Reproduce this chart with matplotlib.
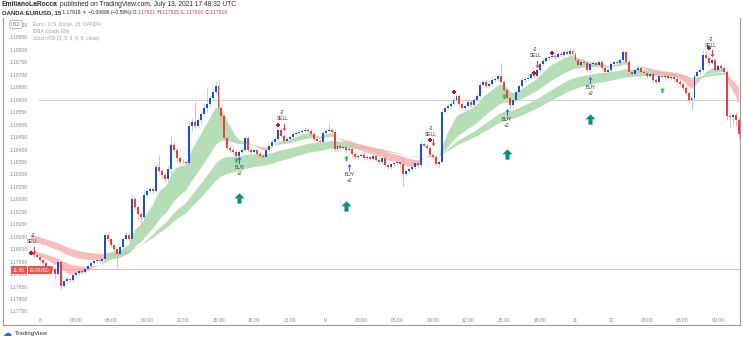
import numpy as np
import pandas as pd
import matplotlib
matplotlib.use("Agg")
import matplotlib.pyplot as plt
from matplotlib.path import Path

plt.rcParams['font.family'] = ['Liberation Sans', 'DejaVu Sans']

W, H = 743, 341

# ---------------------------------------------------------------------------
# EUR/USD 15-minute bars.  Bar 0 = Jul 8 00:00; first drawn bar is -3.
# Prices are kept in points (1e-5) above BASE.
# ---------------------------------------------------------------------------
BASE = 1.17
FIRST_BAR = -3
first_open_pts = 990

close_pts = [
    984, 976, 968, 956, 944, 932, 928, 920, 900, 948,          # -3 .. 6
    852, 872, 880, 876, 896, 904, 912, 908, 920, 932,          # 7 .. 16
    944, 952, 956, 952, 960, 1056, 1040, 1016, 1000, 980,      # 17 .. 26
    1008, 1040, 1056, 1040, 1200, 1168, 1140, 1128, 1216, 1232,
    1240, 1232, 1328, 1312, 1296, 1280, 1320, 1420, 1400, 1368,
    1352, 1348, 1344, 1496, 1512, 1496, 1520, 1544, 1568, 1584,
    1608, 1632, 1656, 1568, 1536, 1448, 1408, 1400, 1392, 1376,
    1392, 1400, 1448, 1400, 1392, 1400, 1384, 1376, 1372, 1400,
    1416, 1432, 1444, 1480, 1456, 1436, 1444, 1452, 1464, 1468,
    1472, 1476, 1480, 1476, 1464, 1444, 1436, 1432, 1468, 1476,
    1480, 1472, 1404, 1416, 1408, 1412, 1400, 1404, 1384, 1372,
    1376, 1380, 1368, 1372, 1364, 1376, 1360, 1352, 1368, 1336,
    1328, 1340, 1344, 1348, 1340, 1300, 1312, 1320, 1328, 1344,
    1336, 1424, 1416, 1408, 1380, 1372, 1340, 1352, 1552, 1568,
    1576, 1584, 1600, 1616, 1584, 1568, 1576, 1592, 1580, 1600,
    1616, 1660, 1672, 1656, 1664, 1680, 1684, 1696, 1672, 1640,
    1608, 1580, 1600, 1632, 1656, 1680, 1684, 1688, 1704, 1696,
    1720, 1744, 1756, 1768, 1772, 1776, 1772, 1784, 1780, 1792,
    1784, 1796, 1784, 1760, 1740, 1752, 1748, 1720, 1744, 1748,
    1740, 1752, 1728, 1712, 1720, 1744, 1752, 1748, 1760, 1792,
    1752, 1712, 1704, 1720, 1728, 1712, 1708, 1696, 1704, 1680,
    1672, 1696, 1692, 1696, 1688, 1692, 1684, 1672, 1664, 1648,
    1628, 1600, 1608, 1696, 1712, 1720, 1780, 1768, 1748, 1760,
    1720, 1736, 1728, 1712, 1536, 1532, 1540, 1520, 1464,      # 227 .. 235
]

upper_wick_pts = [
    6, 10, 4, 6, 4, 6, 4, 8, 6, 8,
    6, 4, 8, 6, 4, 6, 4, 8, 4, 6,
    4, 6, 8, 4, 6, 10, 8, 6, 4, 6,
    6, 8, 12, 6, 16, 8, 6, 10, 20, 12,
    14, 8, 12, 52, 10, 8, 12, 36, 10, 8,
    8, 12, 6, 20, 16, 80, 12, 10, 14, 64,
    10, 14, 20, 24, 8, 6, 6, 8, 10, 6,
    8, 6, 8, 6, 6, 8, 4, 6, 6, 8,
    6, 8, 6, 12, 8, 6, 8, 6, 8, 6,
    8, 6, 10, 6, 8, 6, 4, 8, 10, 6,
    28, 8, 6, 8, 6, 10, 6, 8, 6, 8,
    6, 8, 10, 6, 8, 6, 10, 6, 8, 6,
    8, 6, 8, 10, 6, 8, 6, 8, 6, 10,
    6, 10, 8, 6, 8, 6, 8, 6, 10, 8,
    8, 6, 10, 8, 6, 10, 8, 12, 8, 6,
    8, 10, 12, 8, 6, 10, 8, 6, 52, 8,
    6, 8, 10, 8, 6, 8, 6, 10, 8, 6,
    8, 6, 10, 8, 6, 8, 6, 8, 10, 6,
    8, 10, 6, 8, 6, 8, 6, 10, 8, 6,
    6, 8, 6, 10, 8, 6, 8, 6, 8, 12,
    8, 6, 8, 6, 10, 8, 6, 8, 6, 8,
    6, 8, 10, 6, 8, 6, 8, 6, 10, 8,
    6, 8, 6, 8, 10, 8, 20, 12, 8, 10,
    8, 6, 10, 8, 6, 8, 6, 10, 8,
]

lower_wick_pts = [
    4, 6, 4, 6, 6, 4, 8, 6, 20, 6,
    14, 6, 8, 4, 6, 4, 8, 6, 4, 8,
    6, 4, 6, 8, 4, 4, 6, 8, 12, 52,
    8, 4, 6, 10, 6, 8, 24, 40, 12, 8,
    6, 10, 8, 6, 12, 8, 10, 20, 6, 12,
    10, 6, 8, 10, 20, 12, 8, 14, 10, 16,
    8, 12, 10, 10, 28, 12, 10, 8, 8, 10,
    6, 8, 6, 10, 8, 6, 8, 10, 8, 6,
    8, 6, 10, 8, 6, 10, 8, 6, 8, 6,
    6, 8, 6, 8, 6, 8, 10, 8, 6, 8,
    6, 8, 10, 6, 8, 6, 10, 8, 12, 8,
    8, 6, 8, 10, 6, 8, 6, 10, 8, 6,
    6, 8, 6, 8, 10, 48, 8, 6, 8, 6,
    8, 10, 6, 8, 10, 8, 6, 10, 8, 6,
    10, 8, 6, 8, 12, 6, 8, 6, 10, 8,
    6, 8, 6, 10, 8, 6, 8, 10, 6, 8,
    10, 12, 8, 6, 8, 6, 10, 8, 6, 8,
    6, 8, 6, 10, 8, 6, 8, 6, 8, 10,
    6, 8, 10, 6, 8, 10, 6, 8, 12, 6,
    8, 6, 10, 8, 6, 8, 6, 10, 8, 6,
    6, 10, 8, 6, 8, 6, 10, 8, 6, 8,
    10, 8, 6, 8, 6, 10, 8, 6, 8, 10,
    8, 12, 40, 8, 6, 10, 8, 6, 8, 6,
    6, 10, 8, 6, 16, 40, 30, 24, 20,
]

# time axis
time_ticks = [0, 12, 24, 36, 48, 60, 72, 84, 96, 108, 120, 132, 144, 156,
              168, 180, 192, 204, 216, 228]
time_labels = ["8", "03:00", "06:00", "09:00", "12:00", "15:00", "18:00",
               "21:00", "9", "03:00", "06:00", "09:00", "12:00", "15:00",
               "18:00", "11", "12", "03:00", "06:00", "09:00"]

# price axis
price_ticks = [1.17750, 1.17800, 1.17850, 1.17900, 1.17950, 1.18000,
               1.18050, 1.18100, 1.18150, 1.18200, 1.18250, 1.18300,
               1.18350, 1.18400, 1.18450, 1.18500, 1.18550, 1.18600,
               1.18650, 1.18700, 1.18750, 1.18800, 1.18850, 1.18900]

last_price = 1.17919
ref_level = 1.18600

# EMA clouds
fast_pair = (9, 26)
slow_pair = (38, 55)
ema_seed_pts = {9: 975, 26: 990, 38: 1035, 55: 1060}

# signals
sell_bars = [-2, 82, 132, 167, 226]
sell_prices = [1.17997, 1.18492, 1.18429, 1.18744, 1.18787]
cross_bars = [-3, 80, 131, 166, 225, 139, 172]
cross_prices = [1.17983, 1.18499, 1.18438, 1.18707, 1.18807, 1.18632, 1.18788]
buy_bars = [67, 104, 157, 185]
buy_prices = [1.18358, 1.18329, 1.18552, 1.18679]
green_bars = [66, 103, 156, 209]
green_prices = [1.18358, 1.18365, 1.18615, 1.18639]
teal_bars = [67, 103, 157, 185]
teal_prices = [1.18205, 1.18173, 1.18382, 1.18523]

# ---------------------------------------------------------------------------
idx = np.arange(FIRST_BAR, FIRST_BAR + len(close_pts))
close = BASE + np.array(close_pts) * 1e-5
open_ = np.r_[BASE + first_open_pts * 1e-5, close[:-1]]
high = np.maximum(open_, close) + np.array(upper_wick_pts) * 1e-5
low = np.minimum(open_, close) - np.array(lower_wick_pts) * 1e-5


def ema(period):
    seed = BASE + ema_seed_pts[period] * 1e-5
    s = pd.Series(np.r_[seed, close]).ewm(span=period, adjust=False).mean()
    return s.values[1:]


fig = plt.figure(figsize=(W / 100, H / 100), dpi=100)
fig.patch.set_facecolor("white")


def fx(px):
    return px / W


def fy(py):
    return 1 - py / H


ax_l, ax_r, ax_t, ax_b = 3, 740, 18, 325
ax = fig.add_axes([fx(ax_l), fy(ax_b), (ax_r - ax_l) / W, (ax_b - ax_t) / H])
ax.set_xlim(-12.44, 235.3)
ax.set_ylim(1.176954, 1.189283)
for side in ("left", "bottom", "right"):
    ax.spines[side].set_color("#9a9a9a")
    ax.spines[side].set_linewidth(0.8)
ax.spines["top"].set_visible(False)

# EMA clouds
green_c, pink_c = "#a9d9aa", "#f8b0b0"
for a, b in (slow_pair, fast_pair):
    ea, eb = ema(a), ema(b)
    ax.fill_between(idx, ea, eb, where=ea >= eb, interpolate=True,
                    color=green_c, alpha=0.85, lw=0, zorder=1)
    ax.fill_between(idx, ea, eb, where=ea < eb, interpolate=True,
                    color=pink_c, alpha=0.85, lw=0, zorder=1)

# reference lines
ax.hlines(ref_level, -0.7, 236, color="#d0d0d0", lw=0.7, zorder=1.5)
ax.hlines(last_price, 3.5, 236, color="#f5a3a3", lw=0.6, zorder=1.5)

# candles
up = close >= open_
wick_col = np.where(up, "#9fd8cf", "#f6a5a5")
ax.vlines(idx, low, high, colors=wick_col, lw=0.6, zorder=2)
body_lo = np.minimum(open_, close)
body_h = np.maximum(np.abs(close - open_), 2.5e-5)
body_col = np.where(up, "#1a4fd0", "#f23b3b")
ax.bar(idx, body_h, bottom=body_lo, width=0.66, color=body_col, lw=0, zorder=3)

# marker shapes
block_up = Path([(-0.2, -0.5), (0.2, -0.5), (0.2, 0.02), (0.5, 0.02), (0, 0.5),
                 (-0.5, 0.02), (-0.2, 0.02), (-0.2, -0.5)],
                [Path.MOVETO] + [Path.LINETO] * 6 + [Path.CLOSEPOLY])
thin_up_v = [(-0.07, -0.5), (0.07, -0.5), (0.07, 0.12), (0.28, 0.12), (0, 0.5),
             (-0.28, 0.12), (-0.07, 0.12), (-0.07, -0.5)]
thin_up = Path(thin_up_v, [Path.MOVETO] + [Path.LINETO] * 6 + [Path.CLOSEPOLY])
thin_down = Path([(x, -y) for x, y in thin_up_v],
                 [Path.MOVETO] + [Path.LINETO] * 6 + [Path.CLOSEPOLY])

ax.scatter(teal_bars, teal_prices, marker=block_up, s=7.4 ** 2,
           color="#0b8f7e", lw=0, zorder=4)
ax.scatter(green_bars, green_prices, marker=block_up, s=3.8 ** 2,
           color="#25c644", lw=0, zorder=4)
ax.scatter(buy_bars, buy_prices, marker=thin_up, s=5.2 ** 2,
           color="#2962ff", lw=0, zorder=4)
ax.scatter(sell_bars, sell_prices, marker=thin_down, s=5.2 ** 2,
           color="#f23645", lw=0, zorder=4)
ax.scatter(cross_bars, cross_prices, marker="P", s=2.8 ** 2,
           color="#b71c1c", lw=0, zorder=4)

lab_kw = dict(fontsize=3.6, color="#333333", ha="center", va="center",
              textcoords="offset points", zorder=5)
for b, p in zip(sell_bars, sell_prices):
    ax.annotate("SELL", (b - 0.5, p), xytext=(0, 8 * 0.72), **lab_kw)
    ax.annotate("-2", (b - 0.5, p), xytext=(0, 14 * 0.72), **lab_kw)
for b, p in zip(buy_bars, buy_prices):
    ax.annotate("BUY", (b, p), xytext=(0, -7.5 * 0.72), **lab_kw)
    ax.annotate("+2", (b, p), xytext=(0, -13.5 * 0.72), **lab_kw)

# axes labels drawn inside the frame
ax.set_xticks(time_ticks)
ax.set_xticklabels(time_labels)
ax.set_yticks(price_ticks)
ax.set_yticklabels([f"{v:.5f}" for v in price_ticks])
ax.tick_params(axis="x", length=0, pad=-5.4, labelsize=3.6, labelcolor="#8a8a8a")
ax.tick_params(axis="y", length=0, pad=-5.0, labelsize=3.6, labelcolor="#8a8a8a")
for lab in ax.get_yticklabels():
    lab.set_ha("left")

# last-price tags on the price scale
fig.text(fx(19), fy(270), "11:35", fontsize=3.4, color="white", ha="center",
         va="center", zorder=10,
         bbox=dict(boxstyle="square,pad=0.35", fc="#ef5350", ec="none"))
fig.text(fx(40), fy(270), "EURUSD", fontsize=3.4, color="white", ha="center",
         va="center", zorder=10,
         bbox=dict(boxstyle="square,pad=0.35", fc="#ef5350", ec="none"))
fig.text(fx(16), fy(24.5), "USD", fontsize=3.3, color="#777777", ha="center",
         va="center", zorder=10,
         bbox=dict(boxstyle="round,pad=0.3,rounding_size=0.4", fc="white",
                   ec="#9a9a9a", lw=0.5))

# pane legend
for y, s in ((24, "Euro / U.S. Dollar, 15, OANDA"), (31.5, "EMA clouds Elle"),
             (38.5, "Stoch RSI (3, 3, 3, 9, 8, close)")):
    fig.text(fx(33), fy(y), s, fontsize=3.6, color="#a0a0a0", ha="left", va="center")

# header lines
renderer = fig.canvas.get_renderer()


def text_width(s, size, weight):
    # width of s in pixels, spaces included (measured against a bar glyph)
    t1 = fig.text(0, 0, s + "|", fontsize=size, fontweight=weight)
    t2 = fig.text(0, 0, "|", fontsize=size, fontweight=weight)
    w = (t1.get_window_extent(renderer=renderer).width
         - t2.get_window_extent(renderer=renderer).width)
    t1.remove()
    t2.remove()
    return w


def text_run(x_px, y_px, pieces):
    x = x_px
    for s, color, weight, size in pieces:
        fig.text(fx(x), fy(y_px), s, color=color, fontsize=size,
                 fontweight=weight, ha="left", va="center")
        x += text_width(s, size, weight)


dark, red = "#2a2a2a", "#f23645"
text_run(2, 5, [("EmilianoLaRocca", dark, "bold", 4.8),
                (" published on TradingView.com, July 13, 2021 17:48:32 UTC",
                 dark, "normal", 4.8)])
s2 = 3.6
text_run(2, 12.5, [("OANDA:EURUSD, 15", dark, "bold", 4.3),
                   (" 1.17919 ", dark, "normal", s2),
                   ("▼", red, "normal", s2), (" −0.00686 (−0.58%) O:", dark, "normal", s2),
                   ("1.17921", red, "normal", s2), (" H:", dark, "normal", s2),
                   ("1.17925", red, "normal", s2), (" L:", dark, "normal", s2),
                   ("1.17900", red, "normal", s2), (" C:", dark, "normal", s2),
                   ("1.17919", red, "normal", s2)])

# footer logo
fig.text(fx(3), fy(333), "☁", fontsize=6.5, color="#2962ff", ha="left",
         va="center", family=["DejaVu Sans"])
fig.text(fx(15), fy(333), "TradingView", fontsize=4.3, color="#333333",
         ha="left", va="center")

fig.savefig("out.png", dpi=100, facecolor="white")
